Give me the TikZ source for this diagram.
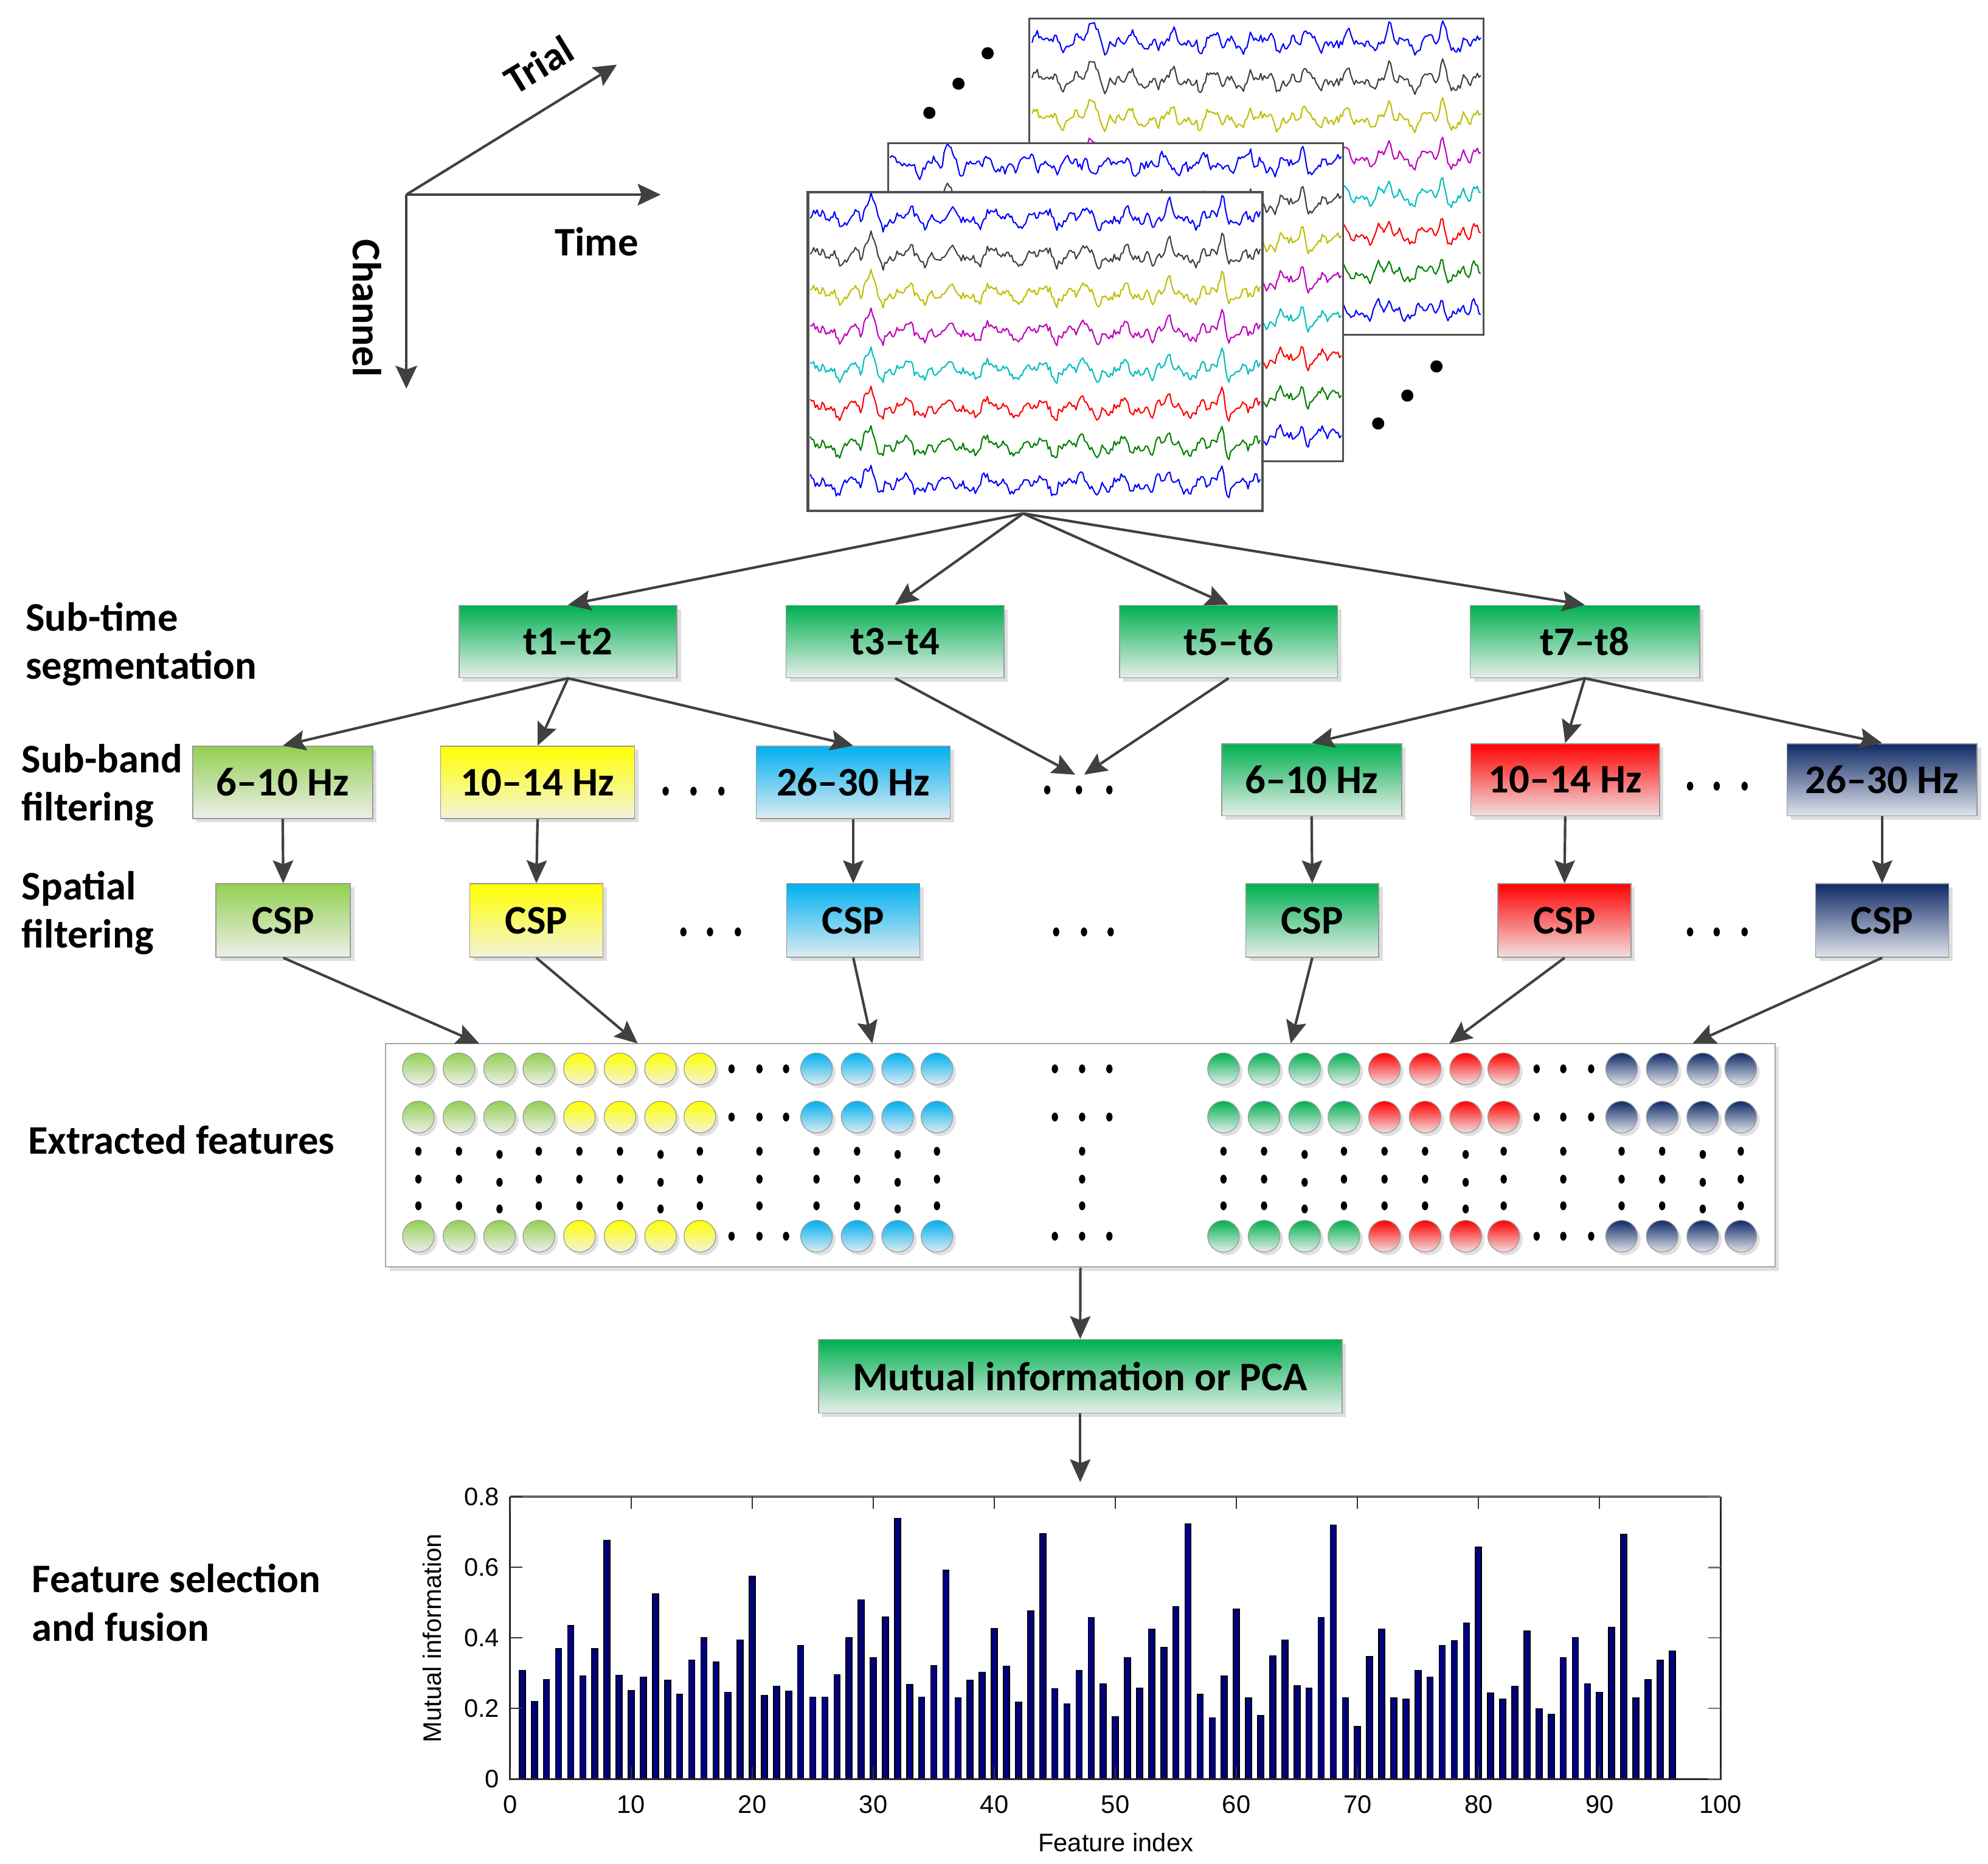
\documentclass[tikz,border=0pt]{standalone}
\usepackage{fontspec}
\setmainfont{Carlito}
\newfontfamily\chartfont{Liberation Sans}
\usetikzlibrary{arrows.meta,shadows}
\definecolor{arrc}{HTML}{404040}
\definecolor{pan}{HTML}{505050}
\definecolor{gtop}{HTML}{00B050}
\definecolor{gbot}{HTML}{E6EEE9}
\definecolor{lgtop}{HTML}{92D050}
\definecolor{lgbot}{HTML}{EDEFEA}
\definecolor{ytop}{HTML}{FFFF00}
\definecolor{ybot}{HTML}{F3F3DA}
\definecolor{btop}{HTML}{00B0F0}
\definecolor{bbot}{HTML}{DDEBF2}
\definecolor{rtop}{HTML}{FF0000}
\definecolor{rbot}{HTML}{F2E0E0}
\definecolor{ntop}{HTML}{0F2A66}
\definecolor{nbot}{HTML}{E0E3EC}
\definecolor{barc}{HTML}{000080}
\definecolor{eblue}{HTML}{0000FF}
\definecolor{egray}{HTML}{404040}
\definecolor{eyel}{HTML}{BFBF00}
\definecolor{emag}{HTML}{BF00BF}
\definecolor{ecyan}{HTML}{00BFBF}
\definecolor{ered}{HTML}{FF0000}
\definecolor{egreen}{HTML}{008000}

% EEG trace: x0, x1, yc, colour, seed, phase
\newcommand\eegtrace[6]{%
  \pgfmathsetseed{#5}%
  \draw[#4, line width=1pt, line join=round]
    plot[samples=260, domain=0:1, variable=\vv]
    ({#1+(#2-#1)*\vv}, {#3-(4.2*sin(3700*\vv+#6)+3.2*sin(8300*\vv+2*#6)+2.0*sin(15000*\vv+#6)+3.0*rand+14*max(0,1-abs(\vv-0.135)/0.02)+10*max(0,1-abs(\vv-0.915)/0.015)+8*max(0,1-abs(\vv-0.8)/0.012))});
}
% feature circle: x, y, top colour, bottom colour
\newcommand\featc[4]{%
  \shade[top color=#3, bottom color=#4, draw=black!40, line width=0.6pt,
    general shadow={fill=black!12, shadow xshift=2.5pt, shadow yshift=-2.5pt}] (#1,#2) circle (12.5);
}
\newcommand\bdot[2]{\fill (#1,#2) ellipse (2.5 and 3.5);}

\tikzset{
  lbl/.style={font=\bfseries\fontsize{32}{38}\selectfont, inner sep=0pt, align=left},
  box/.style={draw=black!40, line width=0.8pt, inner sep=0pt, minimum height=57pt,
    font=\bfseries\fontsize{32}{38}\selectfont,
    general shadow={fill=black!13, shadow xshift=3pt, shadow yshift=-3pt}},
  gbox/.style={box, top color=gtop, bottom color=gbot},
  lgbox/.style={box, top color=lgtop, bottom color=lgbot},
  ybox/.style={box, top color=ytop, bottom color=ybot},
  bbox/.style={box, top color=btop, bottom color=bbot},
  rbox/.style={box, top color=rtop, bottom color=rbot},
  nbox/.style={box, top color=ntop, bottom color=nbot},
  arr/.style={draw=arrc, line width=2pt, -{Stealth[length=18pt,width=16pt,inset=3pt]}},
  axarr/.style={draw=arrc, line width=2pt, -{Stealth[length=18pt,width=17pt,inset=3pt]}},
  chart/.style={font=\chartfont\fontsize{20}{24}\selectfont, inner sep=0pt},
}

\begin{document}
\begin{tikzpicture}[x=1pt,y=-1pt]
\useasboundingbox (0,0) rectangle (1568,1469.7);

% ---------- axes ----------
\coordinate (orig) at (320.5,153.5);
\coordinate (trialend) at (486.5,51);
\coordinate (timeend) at (521,153.5);
\coordinate (chanend) at (320.5,306.5);
\draw[axarr] (orig) -- (trialend);
\draw[axarr] (orig) -- (timeend);
\draw[axarr] (orig) -- (chanend);
\node[lbl, rotate=31.4] (trial) at (425,51) {Trial};
\node[lbl] (time) at (470.6,190.5) {Time};
\node[lbl, rotate=-90] (chan) at (289.5,243) {Channel};

% ---------- EEG panels ----------
% back
\filldraw[fill=white, draw=pan, line width=1.4pt] (812,14.5) rectangle (1170,264);
\begin{scope}
\clip (812,14.5) rectangle (1170,264);
\foreach \c [count=\i from 0] in {eblue,egray,eyel,emag,ecyan,ered,egreen,eblue}
  {\eegtrace{814}{1168}{33+30.4*\i}{\c}{9}{12*\i}}
\end{scope}
\draw[draw=pan, line width=1.4pt] (812,14.5) rectangle (1170,264);
% middle
\filldraw[fill=white, draw=pan, line width=1.4pt] (700.6,113) rectangle (1059.3,363.6);
\begin{scope}
\clip (700.6,113) rectangle (1059.3,363.6);
\foreach \c [count=\i from 0] in {eblue,egray,eyel,emag,ecyan,ered,egreen,eblue}
  {\eegtrace{702}{1058}{130+30.6*\i}{\c}{23}{40+10*\i}}
\end{scope}
\draw[draw=pan, line width=1.4pt] (700.6,113) rectangle (1059.3,363.6);
% front
\node[draw=pan, line width=1.4pt, fill=white, minimum width=358pt, minimum height=250.5pt, inner sep=0pt] (front) at (816.5,277.25) {};
\begin{scope}
\clip (637.5,152) rectangle (995.5,402.5);
\foreach \c [count=\i from 0] in {eblue,egray,eyel,emag,ecyan,ered,egreen,eblue}
  {\eegtrace{639}{994}{172+30*\i}{\c}{5}{8*\i}}
\end{scope}
\draw[draw=pan, line width=1.4pt] (front.north west) rectangle (front.south east);
% dots beside the stack
\foreach \p in {(733,89),(756,66),(779,42),(1087,334),(1110,312),(1133,289)}
  {\fill \p circle (4.8);}

% ---------- left labels ----------
\node[lbl, anchor=west] (lsub) at (20,508) {Sub-time\\segmentation};
\node[lbl, anchor=west] (lband) at (17,620) {Sub-band\\filtering};
\node[lbl, anchor=west] (lspat) at (17,720) {Spatial\\filtering};
\node[lbl, anchor=base west] (lext) at (22,910) {Extracted features};
\node[lbl, anchor=west] (lsel) at (25,1264) {Feature selection\\and fusion};

% ---------- sub-time boxes ----------
\node[gbox, minimum width=172pt] (t12) at (448,506) {t1–t2};
\node[gbox, minimum width=172pt] (t34) at (706,506) {t3–t4};
\node[gbox, minimum width=172pt] (t56) at (969,506) {t5–t6};
\node[gbox, minimum width=181pt] (t78) at (1250,506) {t7–t8};
\coordinate (apex) at (807,405);
\foreach \t in {t12,t34,t56,t78} {\draw[arr] (apex) -- (\t.north);}

% ---------- sub-band boxes ----------
\node[lgbox, minimum width=142pt] (b1) at (223,617) {6–10 Hz};
\node[ybox, minimum width=153pt] (b2) at (424,617) {10–14 Hz};
\node[bbox, minimum width=153pt] (b3) at (673,617) {26–30 Hz};
\node[gbox, minimum width=142pt] (b4) at (1034.5,615) {6–10 Hz};
\node[rbox, minimum width=149pt] (b5) at (1234.5,615) {10–14 Hz};
\node[nbox, minimum width=150pt] (b6) at (1484.5,615) {26–30 Hz};
\foreach \b in {b1,b2,b3} {\draw[arr] (t12.south) -- (\b.north);}
\foreach \b in {b4,b5,b6} {\draw[arr] (t78.south) -- (\b.north);}
\coordinate (mdA) at (848,611);
\coordinate (mdB) at (855,611);
\draw[arr] (t34.south) -- (mdA);
\draw[arr] (t56.south) -- (mdB);
\foreach \x in {525,547,569} {\bdot{\x}{624}}
\foreach \x in {826,851,875} {\bdot{\x}{623}}
\foreach \x in {1333,1354,1376} {\bdot{\x}{620}}

% ---------- CSP boxes ----------
\node[lgbox, minimum width=106pt, minimum height=58pt] (c1) at (223.4,726) {CSP};
\node[ybox, minimum width=105pt, minimum height=58pt] (c2) at (423,726) {CSP};
\node[bbox, minimum width=105pt, minimum height=58pt] (c3) at (673,726) {CSP};
\node[gbox, minimum width=105pt, minimum height=58pt] (c4) at (1035,726) {CSP};
\node[rbox, minimum width=105pt, minimum height=58pt] (c5) at (1234,726) {CSP};
\node[nbox, minimum width=105pt, minimum height=58pt] (c6) at (1484.5,726) {CSP};
\foreach \i in {1,...,6} {\draw[arr] (b\i.south) -- (c\i.north);}
\foreach \x in {539,560,582} {\bdot{\x}{735}}
\foreach \x in {833,855,876} {\bdot{\x}{735}}
\foreach \x in {1333,1354,1376} {\bdot{\x}{735}}

% ---------- extracted features ----------
\node[draw=black!35, line width=0.9pt, fill=white, minimum width=1095.7pt, minimum height=176.3pt, inner sep=0pt,
  general shadow={fill=black!12, shadow xshift=3pt, shadow yshift=-3pt}] (fbox) at (852.15,911.15) {};
\coordinate (f1) at (378,823);
\coordinate (f2) at (503,823);
\coordinate (f3) at (688,823);
\coordinate (f4) at (1018,823);
\coordinate (f5) at (1143,823);
\coordinate (f6) at (1335,823);
\foreach \i in {1,...,6} {\draw[arr] (c\i.south) -- (f\i);}

\foreach \y in {843,881,975} {
  \foreach \x in {330,362,394,425} {\featc{\x}{\y}{lgtop}{lgbot}}
  \foreach \x in {457,489,521,552} {\featc{\x}{\y}{ytop}{ybot}}
  \foreach \x in {644,676,708,739} {\featc{\x}{\y}{btop}{bbot}}
  \foreach \x in {965,997,1029,1060} {\featc{\x}{\y}{gtop}{gbot}}
  \foreach \x in {1092,1124,1156,1186} {\featc{\x}{\y}{rtop}{rbot}}
  \foreach \x in {1279,1311,1343,1373} {\featc{\x}{\y}{ntop}{nbot}}
  \foreach \x in {577,599,620,832,853.5,875,1212,1233,1255} {\bdot{\x}{\y}}
}
\foreach \y in {908,930,951} {
  \foreach \x in {330,362,425,457,489,552,599,644,676,739,853.5,965,997,1060,1092,1124,1186,1233,1279,1311,1373} {\bdot{\x}{\y}}
  \foreach \x in {394,521,708,1029,1156,1343} {\bdot{\x}{\y+2.5}}
}

% ---------- mutual information ----------
\node[gbox, minimum width=413pt, minimum height=58pt] (mi) at (852,1085.5) {Mutual information or PCA};
\draw[arr] (fbox.south) -- (mi.north);
\coordinate (chartin) at (852,1169);
\draw[arr] (mi.south) -- (chartin);

% ---------- bar chart ----------
\def\mivals{0.308,0.22,0.281,0.369,0.435,0.292,0.369,0.676,0.294,0.25,0.289,0.524,0.28,0.24,0.336,0.40,0.331,0.246,0.394,0.575,0.237,0.263,0.248,0.378,0.232,0.232,0.296,0.40,0.508,0.343,0.459,0.739,0.267,0.232,0.321,0.592,0.23,0.28,0.303,0.426,0.319,0.217,0.476,0.695,0.256,0.212,0.307,0.458,0.27,0.177,0.343,0.257,0.424,0.373,0.489,0.723,0.24,0.173,0.292,0.482,0.229,0.18,0.348,0.394,0.264,0.257,0.458,0.72,0.229,0.148,0.347,0.425,0.229,0.226,0.308,0.289,0.378,0.392,0.442,0.657,0.243,0.226,0.263,0.419,0.199,0.184,0.343,0.40,0.27,0.246,0.43,0.694,0.229,0.281,0.336,0.363}
\foreach \v [count=\i] in \mivals
  {\filldraw[fill=barc, draw=black, line width=0.8pt] ({402.4+9.547*(\i-0.25)},1403) rectangle ({402.4+9.547*(\i+0.25)},{1403-278.1*\v});}
\draw[black!60, line width=2pt] (402.4,1180.5) -- (1357.1,1180.5);
\draw[black!85, line width=1.4pt] (402.4,1180.5) -- (402.4,1403) -- (1357.1,1403) -- (1357.1,1180.5);
\foreach \k in {0,...,10} {
  \draw[black!80, line width=1.1pt] ({402.4+95.47*\k},1403) -- ({402.4+95.47*\k},1393.4);
  \draw[black!80, line width=1.1pt] ({402.4+95.47*\k},1180.5) -- ({402.4+95.47*\k},1190.1);
  \pgfmathtruncatemacro\lab{10*\k}
  \node[chart] (xl\k) at ({402.4+95.47*\k},1423) {\lab};
}
\foreach \k/\t in {0/0,1/0.2,2/0.4,3/0.6,4/0.8} {
  \draw[black!80, line width=1.1pt] (402.4,{1403-55.62*\k}) -- (412,{1403-55.62*\k});
  \draw[black!55, line width=1.3pt] (1357.1,{1403-55.62*\k}) -- (1347.5,{1403-55.62*\k});
  \node[chart, anchor=east] (yl\k) at (394,{1403-55.62*\k}) {\t};
}
\node[chart, rotate=90] (ylab) at (341,1292) {Mutual information};
\node[chart] (xlab) at (880,1453) {Feature index};
\end{tikzpicture}
\end{document}
